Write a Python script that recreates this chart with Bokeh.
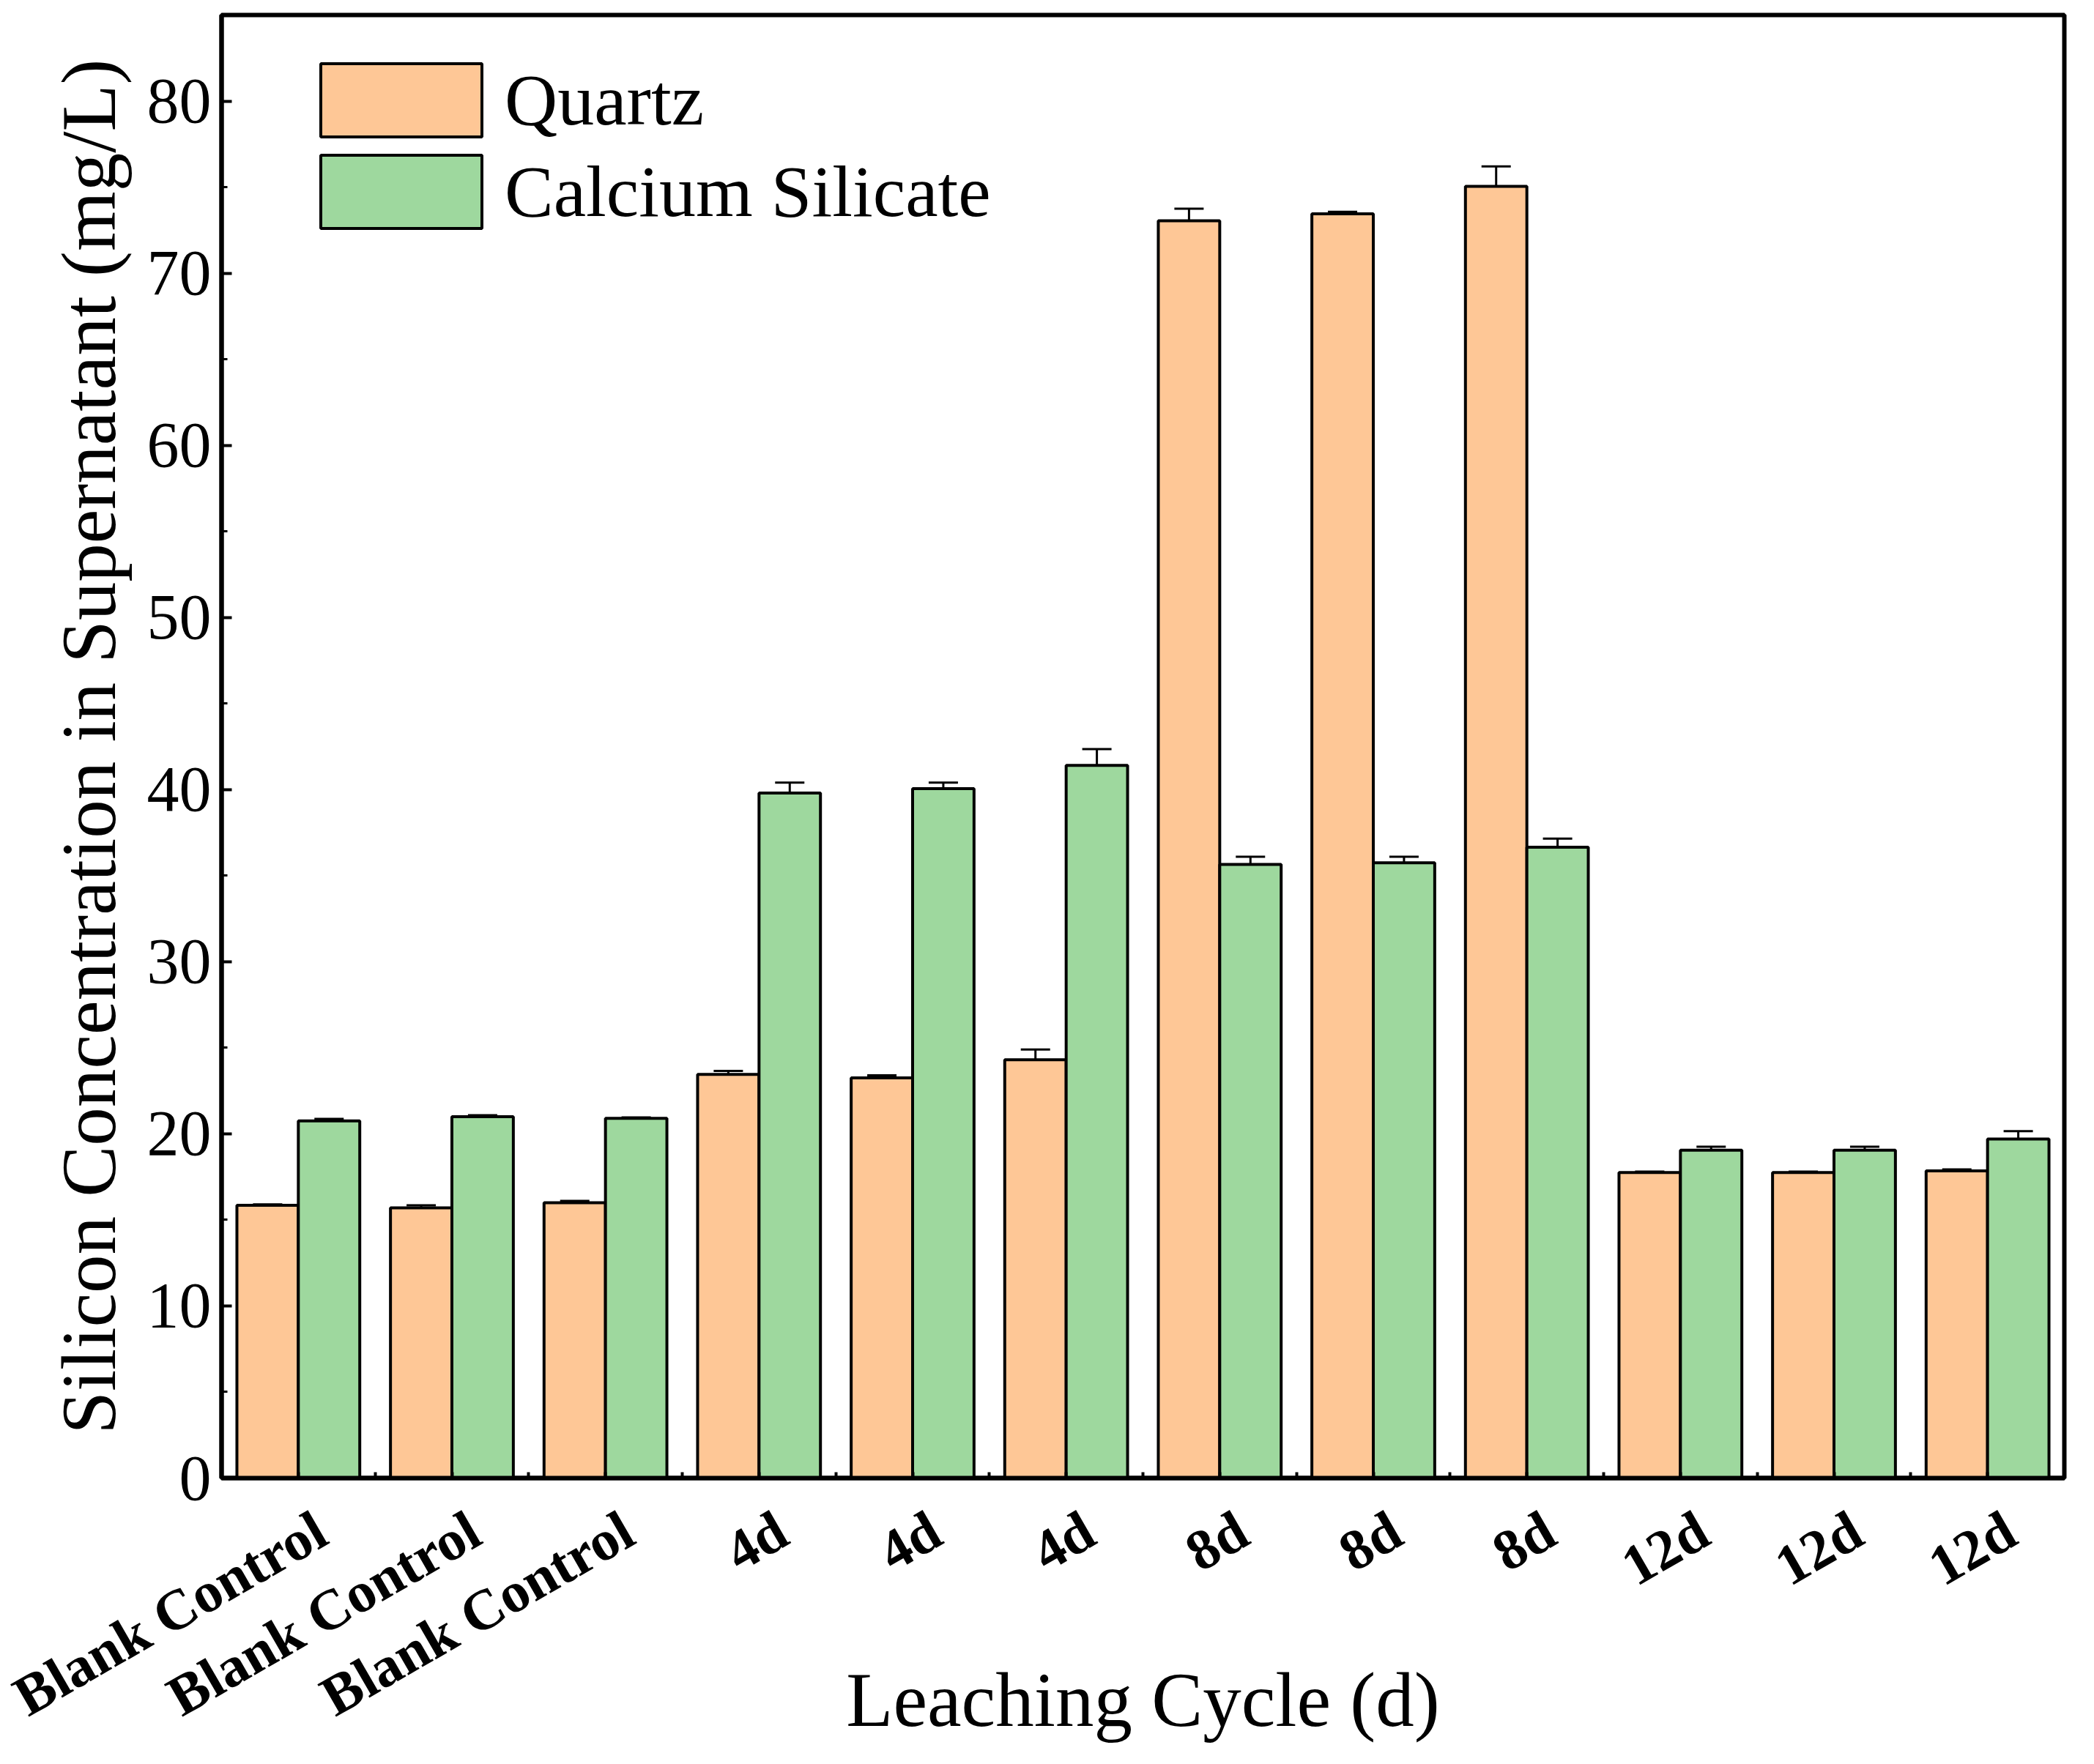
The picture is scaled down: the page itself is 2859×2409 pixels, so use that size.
import math
from bokeh.plotting import figure
from bokeh.models import (ColumnDataSource, Whisker, TeeHead, Legend, LegendItem,
                          FixedTicker, SingleIntervalTicker, Range1d)
from bokeh.embed import file_html
from bokeh.resources import INLINE

# data
cycles = ["Blank Control", "Blank Control", "Blank Control", "4d", "4d", "4d",
          "8d", "8d", "8d", "12d", "12d", "12d"]
quartz = [15.85, 15.7, 16.0, 23.45, 23.25, 24.3, 73.05, 73.45, 75.05, 17.75, 17.75, 17.85]
quartz_err = [0.05, 0.15, 0.1, 0.2, 0.15, 0.6, 0.7, 0.12, 1.15, 0.05, 0.05, 0.08]
calcium = [20.75, 21.0, 20.9, 39.8, 40.05, 41.4, 35.65, 35.75, 36.65, 19.05, 19.05, 19.7]
calcium_err = [0.12, 0.08, 0.05, 0.6, 0.35, 0.95, 0.45, 0.35, 0.5, 0.2, 0.2, 0.45]

FONT = "Liberation Serif"
QUARTZ_COLOR = "#FEC796"
CALCIUM_COLOR = "#9ED89E"
BAR_W = 0.4
LABEL_SHIFT = 0.15  # rotated labels end a little right of the group centre

xs = list(range(len(cycles)))
x_q = [x - BAR_W / 2 for x in xs]
x_c = [x + BAR_W / 2 for x in xs]

src_q = ColumnDataSource(data=dict(
    x=x_q, top=quartz,
    upper=[v + e for v, e in zip(quartz, quartz_err)],
    lower=[v - e for v, e in zip(quartz, quartz_err)],
))
src_c = ColumnDataSource(data=dict(
    x=x_c, top=calcium,
    upper=[v + e for v, e in zip(calcium, calcium_err)],
    lower=[v - e for v, e in zip(calcium, calcium_err)],
))

p = figure(
    frame_width=2516, frame_height=1998,
    x_range=Range1d(-0.5, len(cycles) - 0.5),
    y_range=Range1d(0, 85),
    output_backend="svg", toolbar_location=None,
    min_border_left=302, min_border_right=25,
    min_border_top=20, min_border_bottom=375,
)

r_q = p.vbar(x="x", top="top", width=BAR_W, bottom=0, source=src_q,
             fill_color=QUARTZ_COLOR, line_color="black", line_width=4)
r_c = p.vbar(x="x", top="top", width=BAR_W, bottom=0, source=src_c,
             fill_color=CALCIUM_COLOR, line_color="black", line_width=4)

for src in (src_q, src_c):
    w = Whisker(base="x", upper="upper", lower="lower", source=src,
                line_color="black", line_width=3,
                upper_head=TeeHead(size=40, line_width=3, line_color="black"),
                lower_head=TeeHead(size=40, line_width=3, line_color="black"))
    p.add_layout(w)

# frame
p.outline_line_color = "black"
p.outline_line_width = 6
p.xgrid.grid_line_color = None
p.ygrid.grid_line_color = None
p.background_fill_color = "white"
p.border_fill_color = "white"

# y axis
p.yaxis.ticker = SingleIntervalTicker(interval=10, num_minor_ticks=2)
p.yaxis.axis_label = "Silicon Concentration in Supernatant (mg/L)"
p.yaxis.axis_label_text_font = FONT
p.yaxis.axis_label_text_font_size = "105px"
p.yaxis.axis_label_text_font_style = "normal"
p.yaxis.axis_label_text_color = "black"
p.yaxis.axis_label_standoff = 18
p.yaxis.major_label_text_font = FONT
p.yaxis.major_label_text_font_size = "88px"
p.yaxis.major_label_text_color = "black"
p.yaxis.major_label_standoff = 14
p.yaxis.axis_line_width = 6
p.yaxis.major_tick_in = 14
p.yaxis.major_tick_out = 0
p.yaxis.minor_tick_in = 8
p.yaxis.minor_tick_out = 0
p.yaxis.major_tick_line_width = 4
p.yaxis.minor_tick_line_width = 3

# x axis: labels on shifted major ticks, small marks at centres and boundaries
label_pos = [x + LABEL_SHIFT for x in xs]
p.xaxis.ticker = FixedTicker(ticks=label_pos,
                             minor_ticks=xs + [x + 0.5 for x in xs[:-1]])
p.xaxis.major_label_overrides = {t: c for t, c in zip(label_pos, cycles)}
p.xaxis.major_label_orientation = math.pi / 6
p.xaxis.major_label_text_font = FONT
p.xaxis.major_label_text_font_size = "78px"
p.xaxis.major_label_text_font_style = "bold"
p.xaxis.major_label_text_color = "black"
p.xaxis.major_label_standoff = 65
p.xaxis.axis_label = "Leaching Cycle (d)"
p.xaxis.axis_label_text_font = FONT
p.xaxis.axis_label_text_font_size = "105px"
p.xaxis.axis_label_text_font_style = "normal"
p.xaxis.axis_label_text_color = "black"
p.xaxis.axis_label_standoff = -138
p.xaxis.axis_line_width = 6
p.xaxis.major_tick_in = 0
p.xaxis.major_tick_out = 0
p.xaxis.minor_tick_in = 8
p.xaxis.minor_tick_out = 0
p.xaxis.minor_tick_line_width = 4

legend = Legend(
    items=[LegendItem(label="Quartz", renderers=[r_q]),
           LegendItem(label="Calcium Silicate", renderers=[r_c])],
    location=(108, 1694),
    glyph_width=275, glyph_height=125, label_height=125,
    spacing=0, padding=0, margin=0,
    label_standoff=4,
    label_text_font=FONT, label_text_font_size="100px",
    label_text_color="black",
    border_line_color=None, background_fill_alpha=0,
)
p.add_layout(legend)

open("out.html", "w").write(file_html(p, INLINE))
